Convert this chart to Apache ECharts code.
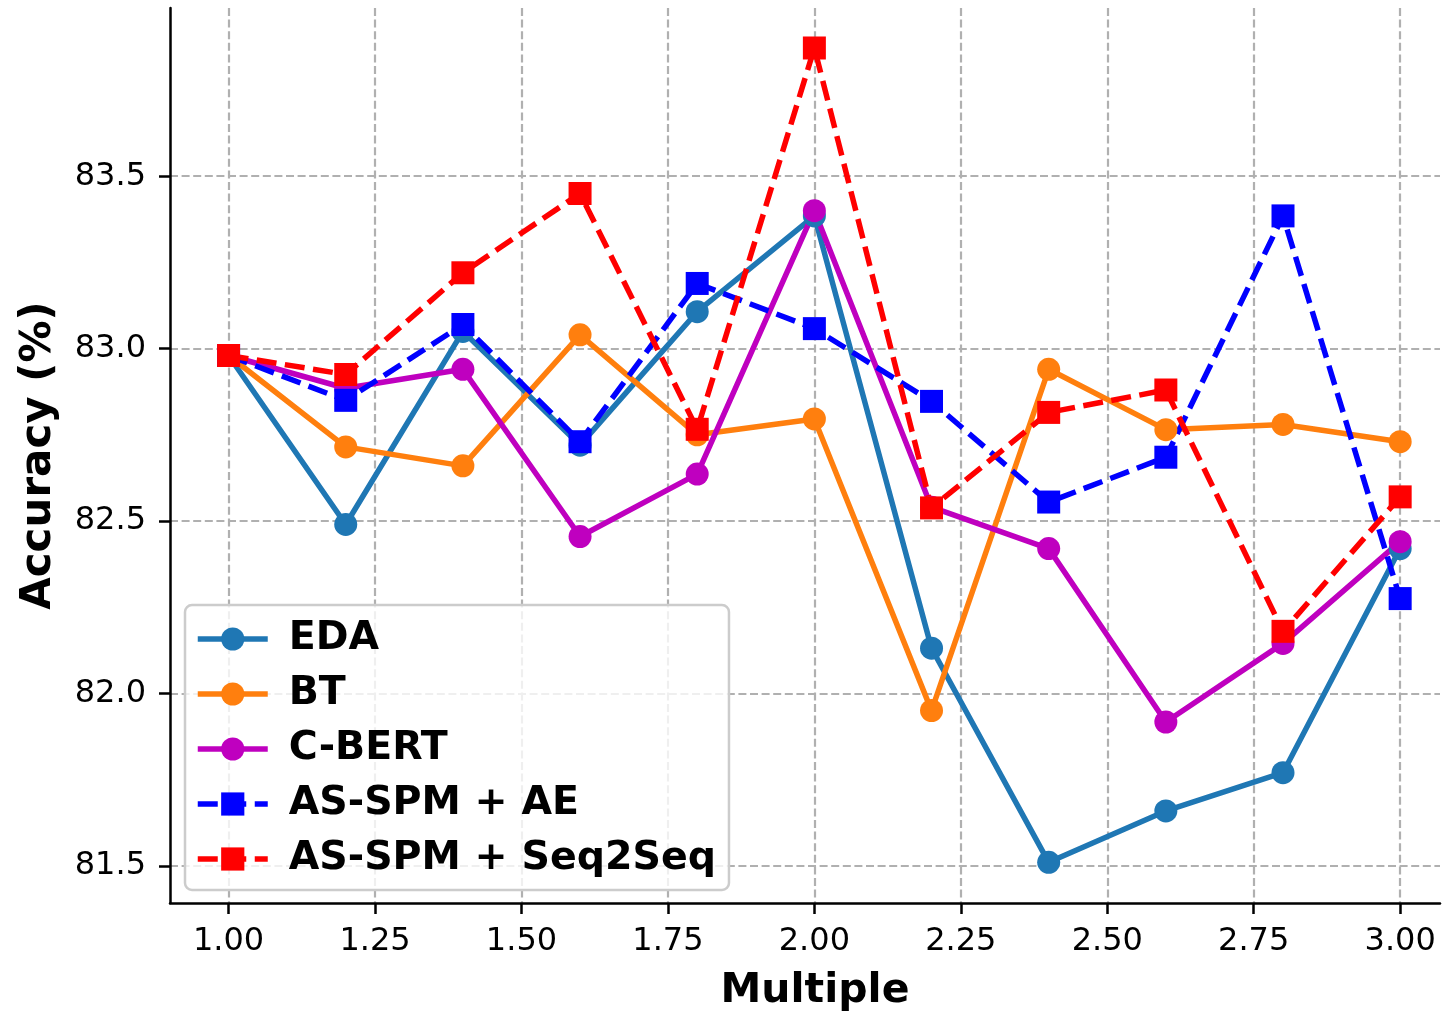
<!DOCTYPE html>
<html>
<head>
<meta charset="utf-8">
<script src="https://cdn.jsdelivr.net/npm/echarts@6/dist/echarts.min.js"></script>
<style>
  html, body { margin: 0; padding: 0; background: #fff; }
  #chart { width: 1442px; height: 1017px; }
</style>
</head>
<body>
<div id="chart"></div>
<script>
const multiples = [1.0, 1.2, 1.4, 1.6, 1.8, 2.0, 2.2, 2.4, 2.6, 2.8, 3.0];
const eda = [82.98, 82.49, 83.05, 82.72, 83.107, 83.385, 82.131, 81.51, 81.659, 81.77, 82.42];
const bt = [82.98, 82.715, 82.66, 83.04, 82.75, 82.796, 81.95, 82.94, 82.765, 82.78, 82.73];
const cbert = [82.98, 82.885, 82.94, 82.455, 82.636, 83.40, 82.54, 82.42, 81.917, 82.145, 82.44];
const asSpmAe = [82.98, 82.85, 83.07, 82.73, 83.189, 83.058, 82.847, 82.555, 82.685, 83.385, 82.275];
const asSpmSeq = [82.98, 82.925, 83.22, 83.45, 82.766, 83.872, 82.538, 82.815, 82.88, 82.18, 82.57];
const xTicks = [1.0, 1.25, 1.5, 1.75, 2.0, 2.25, 2.5, 2.75, 3.0];
const yTicks = [81.5, 82.0, 82.5, 83.0, 83.5];

const font = "DejaVu Sans";
const lineWidth = 5.5;
const dash = [20, 8.5];

function pairs(values) {
  return multiples.map((x, i) => [x, values[i]]);
}

function makeSerie(name, values, color, symbol, dashed) {
  return {
    name: name,
    type: "line",
    data: pairs(values),
    symbol: symbol,
    symbolSize: 23,
    showAllSymbol: true,
    itemStyle: { color: color },
    lineStyle: {
      color: color,
      width: lineWidth,
      type: dashed ? dash : "solid"
    },
    emphasis: { disabled: true },
    animation: false
  };
}

const chart = echarts.init(document.getElementById("chart"));

const axisLine = { show: true, lineStyle: { color: "#000", width: 2.5 } };
const axisTick = { show: true, inside: false, length: 11, lineStyle: { color: "#000", width: 2.5 } };
const splitLine = { show: true, lineStyle: { color: "#b0b0b0", width: 2.2, type: [8, 3.6] } };

const option = {
  backgroundColor: "#fff",
  animation: false,
  grid: { left: 170, right: 2, top: 8, bottom: 110 },
  xAxis: {
    type: "value",
    min: 0.9,
    max: 3.068,
    name: "Multiple",
    nameLocation: "middle",
    nameGap: 68,
    nameTextStyle: {
      fontFamily: font, fontWeight: "bold", fontSize: 41, color: "#000",
      padding: [0, 0, 0, 20]
    },
    axisLine: axisLine,
    axisTick: Object.assign({ customValues: xTicks }, axisTick),
    axisLabel: {
      customValues: xTicks,
      margin: 23,
      fontFamily: font,
      fontSize: 32,
      color: "#000",
      formatter: v => Number(v).toFixed(2)
    },
    splitLine: splitLine
  },
  yAxis: {
    type: "value",
    min: 81.392,
    max: 83.988,
    name: "Accuracy (%)",
    nameLocation: "middle",
    nameGap: 110,
    nameTextStyle: { fontFamily: font, fontWeight: "bold", fontSize: 42, color: "#000" },
    axisLine: axisLine,
    axisTick: Object.assign({ customValues: yTicks }, axisTick),
    axisLabel: {
      customValues: yTicks,
      margin: 24,
      fontFamily: font,
      fontSize: 32,
      color: "#000",
      formatter: v => Number(v).toFixed(1)
    },
    splitLine: splitLine
  },
  legend: {
    orient: "vertical",
    left: 185,
    top: 605,
    padding: [12, 13, 9, 10],
    itemWidth: 70,
    itemHeight: 29,
    itemGap: 11,
    backgroundColor: "rgba(255,255,255,0.8)",
    borderColor: "#cccccc",
    borderWidth: 2.5,
    borderRadius: 7,
    lineStyle: { width: lineWidth },
    textStyle: {
      fontFamily: font,
      fontWeight: "bold",
      fontSize: 39.5,
      lineHeight: 44,
      color: "#000",
      padding: [0, 0, 0, 16]
    },
    data: ["EDA", "BT", "C-BERT", "AS-SPM + AE", "AS-SPM + Seq2Seq"]
  },
  series: [
    makeSerie("EDA", eda, "#1f77b4", "circle", false),
    makeSerie("BT", bt, "#ff7f0e", "circle", false),
    makeSerie("C-BERT", cbert, "#bf00bf", "circle", false),
    makeSerie("AS-SPM + AE", asSpmAe, "#0000ff", "rect", true),
    makeSerie("AS-SPM + Seq2Seq", asSpmSeq, "#ff0000", "rect", true)
  ]
};

chart.setOption(option);
</script>
</body>
</html>
